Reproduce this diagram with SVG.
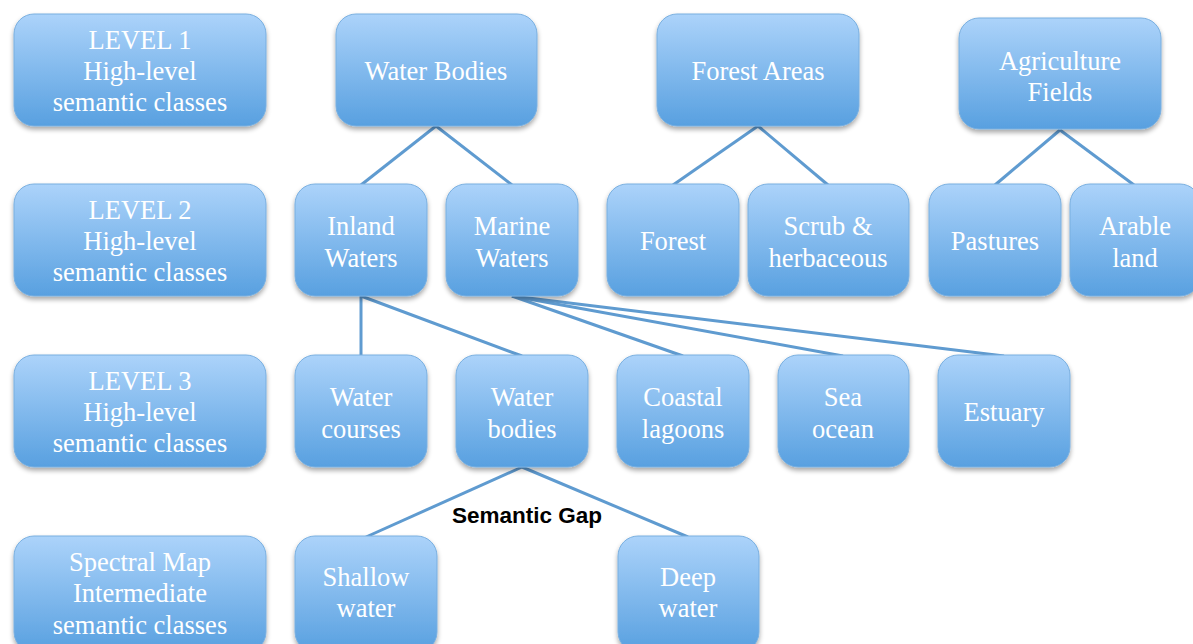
<svg xmlns="http://www.w3.org/2000/svg" width="1193" height="644" viewBox="0 0 1193 644">
  <defs>
    <linearGradient id="boxFill" x1="0" y1="0" x2="0" y2="1">
      <stop offset="0" stop-color="#acd3fa"/>
      <stop offset="1" stop-color="#58a0e0"/>
    </linearGradient>
    <filter id="shadow" x="-10%" y="-10%" width="120%" height="130%">
      <feGaussianBlur in="SourceAlpha" stdDeviation="2.5"/>
      <feOffset dy="3" result="b"/>
      <feComponentTransfer><feFuncA type="linear" slope="0.35"/></feComponentTransfer>
      <feMerge><feMergeNode/><feMergeNode in="SourceGraphic"/></feMerge>
    </filter>
    <style>
      .box { fill: url(#boxFill); stroke: #79afe0; stroke-width: 1; filter: url(#shadow); }
      .lbl { font-family: "Liberation Serif", "Times New Roman", serif; font-size: 26.5px; fill: #ffffff; text-anchor: middle; }
      .edge { stroke: #5f9bd0; stroke-width: 3; fill: none; }
      .gap { font-family: "Liberation Sans", Arial, sans-serif; font-size: 22.5px; font-weight: bold; fill: #000000; text-anchor: middle; }
    </style>
  </defs>
  <rect width="1193" height="644" fill="#ffffff"/>

  <g id="connectors">
    <line class="edge" x1="436" y1="126" x2="361" y2="185"/>
    <line class="edge" x1="436" y1="126" x2="512" y2="185"/>
    <line class="edge" x1="758" y1="126" x2="673" y2="185"/>
    <line class="edge" x1="758" y1="126" x2="828" y2="185"/>
    <line class="edge" x1="1060" y1="130" x2="995" y2="185"/>
    <line class="edge" x1="1060" y1="130" x2="1134" y2="185"/>
    <line class="edge" x1="361" y1="296" x2="361" y2="356"/>
    <line class="edge" x1="361" y1="296" x2="522" y2="356"/>
    <line class="edge" x1="512" y1="296" x2="683" y2="356"/>
    <line class="edge" x1="512" y1="296" x2="843" y2="356"/>
    <line class="edge" x1="512" y1="296" x2="1004" y2="356"/>
    <line class="edge" x1="522" y1="467" x2="366" y2="537"/>
    <line class="edge" x1="522" y1="467" x2="688" y2="537"/>
  </g>

  <!-- level column -->
  <g id="level1">
    <rect class="box" x="14" y="14" width="252" height="112" rx="20"/>
    <text class="lbl" x="140" y="49">LEVEL 1</text>
    <text class="lbl" x="140" y="80">High-level</text>
    <text class="lbl" x="140" y="111">semantic classes</text>
  </g>
  <g id="level2">
    <rect class="box" x="14" y="184" width="252" height="112" rx="20"/>
    <text class="lbl" x="140" y="219">LEVEL 2</text>
    <text class="lbl" x="140" y="250">High-level</text>
    <text class="lbl" x="140" y="281">semantic classes</text>
  </g>
  <g id="level3">
    <rect class="box" x="14" y="355" width="252" height="112" rx="20"/>
    <text class="lbl" x="140" y="390">LEVEL 3</text>
    <text class="lbl" x="140" y="421">High-level</text>
    <text class="lbl" x="140" y="452">semantic classes</text>
  </g>
  <g id="spectral">
    <rect class="box" x="14" y="536" width="252" height="116" rx="20"/>
    <text class="lbl" x="140" y="571">Spectral Map</text>
    <text class="lbl" x="140" y="602">Intermediate</text>
    <text class="lbl" x="140" y="634">semantic classes</text>
  </g>

  <!-- level 1 nodes -->
  <g id="water-bodies-l1">
    <rect class="box" x="336" y="14" width="201" height="112" rx="20"/>
    <text class="lbl" x="436" y="80">Water Bodies</text>
  </g>
  <g id="forest-areas">
    <rect class="box" x="657" y="14" width="202" height="112" rx="20"/>
    <text class="lbl" x="758" y="80">Forest Areas</text>
  </g>
  <g id="agriculture">
    <rect class="box" x="959" y="18" width="202" height="111" rx="20"/>
    <text class="lbl" x="1060" y="70">Agriculture</text>
    <text class="lbl" x="1060" y="101">Fields</text>
  </g>

  <!-- level 2 nodes -->
  <g id="inland">
    <rect class="box" x="295" y="184" width="132" height="112" rx="20"/>
    <text class="lbl" x="361" y="235">Inland</text>
    <text class="lbl" x="361" y="267">Waters</text>
  </g>
  <g id="marine">
    <rect class="box" x="446" y="184" width="132" height="112" rx="20"/>
    <text class="lbl" x="512" y="235">Marine</text>
    <text class="lbl" x="512" y="267">Waters</text>
  </g>
  <g id="forest">
    <rect class="box" x="607" y="184" width="132" height="112" rx="20"/>
    <text class="lbl" x="673" y="250">Forest</text>
  </g>
  <g id="scrub">
    <rect class="box" x="748" y="184" width="161" height="112" rx="20"/>
    <text class="lbl" x="828" y="235">Scrub &amp;</text>
    <text class="lbl" x="828" y="267">herbaceous</text>
  </g>
  <g id="pastures">
    <rect class="box" x="929" y="184" width="132" height="112" rx="20"/>
    <text class="lbl" x="995" y="250">Pastures</text>
  </g>
  <g id="arable">
    <rect class="box" x="1070" y="184" width="130" height="112" rx="20"/>
    <text class="lbl" x="1135" y="235">Arable</text>
    <text class="lbl" x="1135" y="267">land</text>
  </g>

  <!-- level 3 nodes -->
  <g id="water-courses">
    <rect class="box" x="295" y="355" width="132" height="112" rx="20"/>
    <text class="lbl" x="361" y="406">Water</text>
    <text class="lbl" x="361" y="438">courses</text>
  </g>
  <g id="water-bodies-l3">
    <rect class="box" x="456" y="355" width="132" height="112" rx="20"/>
    <text class="lbl" x="522" y="406">Water</text>
    <text class="lbl" x="522" y="438">bodies</text>
  </g>
  <g id="coastal">
    <rect class="box" x="617" y="355" width="132" height="112" rx="20"/>
    <text class="lbl" x="683" y="406">Coastal</text>
    <text class="lbl" x="683" y="438">lagoons</text>
  </g>
  <g id="sea">
    <rect class="box" x="778" y="355" width="131" height="112" rx="20"/>
    <text class="lbl" x="843" y="406">Sea</text>
    <text class="lbl" x="843" y="438">ocean</text>
  </g>
  <g id="estuary">
    <rect class="box" x="938" y="355" width="132" height="112" rx="20"/>
    <text class="lbl" x="1004" y="421">Estuary</text>
  </g>

  <!-- spectral nodes -->
  <g id="shallow">
    <rect class="box" x="295" y="536" width="142" height="116" rx="20"/>
    <text class="lbl" x="366" y="586">Shallow</text>
    <text class="lbl" x="366" y="617">water</text>
  </g>
  <g id="deep">
    <rect class="box" x="618" y="536" width="141" height="116" rx="20"/>
    <text class="lbl" x="688" y="586">Deep</text>
    <text class="lbl" x="688" y="617">water</text>
  </g>

  <text class="gap" x="527" y="523">Semantic Gap</text>
</svg>
